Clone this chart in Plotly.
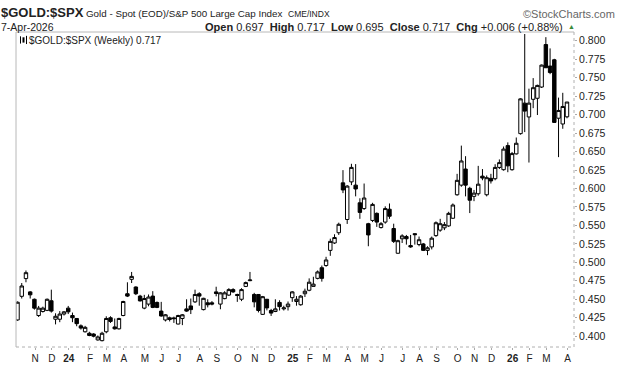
import pandas as pd
import plotly.graph_objects as go

# ---- data (weekly OHLC of $GOLD:$SPX) ----
start_week = "2023-10-09"
opens = [0.422,0.454,0.478,0.460,0.450,0.428,0.4335,0.435,0.448,0.423,
         0.423,0.430,0.438,0.428,0.424,0.414,0.406,0.404,0.403,0.395,
         0.394,0.406,0.425,0.4126,0.410,0.428,0.4575,0.477,0.4666,0.4543,
         0.438,0.4435,0.4543,0.4457,0.434,0.422,0.4226,0.4248,0.4165,0.424,
         0.437,0.441,0.4465,0.4575,0.436,0.4452,0.4452,0.460,0.4435,0.4509,
         0.4557,0.4631,0.4565,0.450,0.4674,0.4752,0.4565,0.4565,0.4296,0.450,
         0.4348,0.4335,0.4457,0.437,0.440,0.4522,0.447,0.4426,0.4575,0.4622,
         0.4674,0.4783,0.4927,0.4957,0.5162,0.5262,0.5401,0.6076,0.558,0.6089,
         0.6045,0.5806,0.5728,0.5523,0.5567,0.5663,0.5471,0.5545,0.5719,0.5458,
         0.5123,0.5319,0.5349,0.5227,0.5388,0.5241,0.5249,0.5162,0.5209,0.5362,
         0.5436,0.5467,0.5493,0.5597,0.5915,0.6045,0.6263,0.6002,0.5893,0.5928,
         0.6167,0.5915,0.6137,0.6132,0.6285,0.6254,0.658,0.6254,0.6468,0.6742,
         0.7155,0.6968,0.7207,0.7221,0.7373,0.7948,0.7657,0.7742,0.6951,0.6873,
         0.697]
highs = [0.447,0.472,0.489,0.461,0.451,0.441,0.440,0.451,0.463,0.431,
         0.434,0.434,0.441,0.432,0.4245,0.416,0.414,0.406,0.404,0.401,
         0.406,0.427,0.427,0.424,0.425,0.448,0.473,0.487,0.4675,0.456,
         0.456,0.4565,0.461,0.447,0.4465,0.430,0.4265,0.4265,0.429,0.430,
         0.450,0.451,0.463,0.4595,0.452,0.450,0.4475,0.467,0.4596,0.4609,
         0.465,0.465,0.4575,0.465,0.474,0.487,0.4587,0.457,0.4545,0.4505,
         0.437,0.450,0.4487,0.4413,0.447,0.461,0.4543,0.4557,0.4644,0.4783,
         0.4805,0.489,0.4957,0.5075,0.532,0.538,0.5537,0.6248,0.6045,0.6334,
         0.633,0.5867,0.6067,0.5535,0.5806,0.5676,0.5545,0.5758,0.5797,0.5523,
         0.5306,0.538,0.5371,0.5371,0.5392,0.5349,0.5262,0.5218,0.5349,0.5554,
         0.5589,0.5545,0.5684,0.5797,0.6198,0.658,0.6437,0.6023,0.598,0.6306,
         0.6263,0.6176,0.6198,0.6328,0.6393,0.6568,0.6624,0.6494,0.669,0.7221,
         0.8091,0.7351,0.7494,0.7405,0.7678,0.8048,0.7896,0.7755,0.723,0.7295,
         0.717]
lows = [0.421,0.451,0.473,0.451,0.436,0.426,0.432,0.434,0.432,0.416,
        0.419,0.428,0.430,0.419,0.4135,0.409,0.405,0.400,0.3985,0.394,
        0.393,0.404,0.418,0.409,0.409,0.427,0.453,0.472,0.4557,0.447,
        0.4365,0.4405,0.438,0.438,0.4265,0.420,0.420,0.418,0.416,0.415,
        0.433,0.430,0.445,0.4413,0.435,0.439,0.4418,0.454,0.4365,0.450,
        0.4545,0.4587,0.4465,0.4475,0.4665,0.4745,0.4391,0.4322,0.4287,0.435,
        0.4274,0.4326,0.4348,0.4348,0.4348,0.4465,0.4413,0.4413,0.4531,0.4609,
        0.4674,0.477,0.4739,0.494,0.5088,0.5249,0.5371,0.5937,0.552,0.6045,
        0.5893,0.5589,0.571,0.5218,0.5545,0.548,0.5458,0.5523,0.5589,0.5262,
        0.5118,0.5262,0.524,0.5197,0.524,0.5218,0.5153,0.5097,0.5175,0.5345,
        0.5414,0.5436,0.548,0.5589,0.5902,0.6023,0.5893,0.5667,0.5828,0.5902,
        0.6111,0.5893,0.6067,0.6111,0.6263,0.6241,0.622,0.6241,0.6459,0.6729,
        0.6763,0.6351,0.7087,0.6994,0.736,0.7634,0.7547,0.6894,0.6424,0.6808,
        0.695]
closes = [0.446,0.468,0.486,0.456,0.438,0.438,0.438,0.450,0.434,0.427,
          0.430,0.433,0.433,0.425,0.417,0.411,0.412,0.401,0.400,0.399,
          0.404,0.424,0.420,0.410,0.424,0.447,0.4543,0.481,0.4575,0.4478,
          0.451,0.453,0.439,0.439,0.4274,0.429,0.425,0.4238,0.428,0.429,
          0.434,0.436,0.4565,0.4543,0.4513,0.4426,0.4435,0.4578,0.4587,0.4587,
          0.4631,0.460,0.4552,0.4631,0.4726,0.4761,0.4465,0.4348,0.4535,0.4383,
          0.4313,0.437,0.440,0.4383,0.4435,0.460,0.450,0.4543,0.4609,0.4731,
          0.4705,0.487,0.4783,0.5032,0.5284,0.5336,0.5515,0.598,0.6032,0.6285,
          0.5993,0.5676,0.5871,0.5371,0.5784,0.5545,0.5523,0.5728,0.5624,0.5284,
          0.5293,0.5358,0.5319,0.5209,0.5375,0.5306,0.5162,0.5197,0.5327,0.5536,
          0.5523,0.551,0.5663,0.5776,0.611,0.6372,0.6045,0.5841,0.5937,0.6058,
          0.6141,0.6146,0.6102,0.6285,0.635,0.6533,0.6306,0.6472,0.6612,0.7213,
          0.7047,0.7155,0.7364,0.7395,0.767,0.7634,0.7569,0.6894,0.7056,0.711,
          0.717]

tick_dates = ["2023-11-06","2023-12-04","2024-01-01","2024-02-05","2024-03-04",
              "2024-04-01","2024-05-06","2024-06-03","2024-07-01","2024-08-05",
              "2024-09-02","2024-10-07","2024-11-04","2024-12-02","2025-01-06",
              "2025-02-03","2025-03-03","2025-04-07","2025-05-05","2025-06-02",
              "2025-07-07","2025-08-04","2025-09-01","2025-10-06","2025-11-03",
              "2025-12-01","2026-01-05","2026-02-02","2026-03-02","2026-04-06"]
tick_labels = ["N","D","<b>24</b>","F","M","A","M","J","J","A","S","O","N","D",
               "<b>25</b>","F","M","A","M","J","J","A","S","O","N","D","<b>26</b>",
               "F","M","A"]
y_ticks = [0.400,0.425,0.450,0.475,0.500,0.525,0.550,0.575,0.600,0.625,
           0.650,0.675,0.700,0.725,0.750,0.775,0.800]

dates = [pd.Timestamp(start_week) + pd.Timedelta(weeks=i) for i in range(len(opens))]

W, H = 620, 376
L, R, T, B = 16, 574, 32, 359  # plot box in pixels

def px(x):
    return (x - L) / (R - L)

def py(y):
    return (B - y) / (B - T)

FONT = "Liberation Sans, Arial, sans-serif"

fig = go.Figure()
fig.add_trace(go.Candlestick(
    x=dates, open=opens, high=highs, low=lows, close=closes,
    increasing=dict(line=dict(color="black", width=1), fillcolor="white"),
    decreasing=dict(line=dict(color="black", width=1), fillcolor="black"),
    whiskerwidth=0, showlegend=False, hoverinfo="skip",
))

x0 = pd.Timestamp(start_week) - pd.Timedelta(days=2.5)
x1 = dates[-1] + pd.Timedelta(days=11.6)

fig.update_layout(
    width=W, height=H, autosize=False,
    margin=dict(l=L, r=W - R, t=T, b=H - B, pad=0),
    paper_bgcolor="white", plot_bgcolor="white",
    boxgap=0.12, boxgroupgap=0.08,
    font=dict(family=FONT, size=10, color="#222"),
    xaxis=dict(
        type="date", range=[x0, x1], rangeslider=dict(visible=False),
        showgrid=False, zeroline=False, showline=False,
        tickvals=[pd.Timestamp(d) + pd.Timedelta(days=1) for d in tick_dates],
        ticktext=tick_labels, ticks="outside", ticklen=2, tickcolor="#aaa",
        tickfont=dict(family=FONT, size=10, color="#222"),
        fixedrange=True,
    ),
    yaxis=dict(
        side="right", range=[0.3854, 0.8118],
        tickvals=y_ticks, ticktext=[f"{v:.3f}" for v in y_ticks],
        ticks="outside", ticklen=2, tickcolor="#aaa",
        showgrid=False, zeroline=False, showline=False,
        tickfont=dict(family=FONT, size=10.5, color="#222"),
        fixedrange=True,
    ),
)

# frame
fig.add_shape(type="line", xref="paper", yref="paper", x0=0, x1=0, y0=0, y1=1,
              line=dict(color="#b8b8b8", width=1))
fig.add_shape(type="line", xref="paper", yref="paper", x0=0, x1=1, y0=1, y1=1,
              line=dict(color="#b8b8b8", width=1))
fig.add_shape(type="line", xref="paper", yref="paper", x0=1, x1=1, y0=0, y1=1,
              line=dict(color="#b0b0b0", width=1, dash="dot"))
fig.add_shape(type="line", xref="paper", yref="paper", x0=0, x1=1, y0=0, y1=0,
              line=dict(color="#b0b0b0", width=1, dash="dot"))

# legend icon (small candle glyph)
for (ix, ya, yb, wd) in [(20.5, 36.5, 44, 1), (23.5, 37.5, 43, 2), (26.5, 36, 44.5, 1)]:
    fig.add_shape(type="line", xref="paper", yref="paper",
                  x0=px(ix), x1=px(ix), y0=py(ya), y1=py(yb),
                  line=dict(color="black", width=wd))

ann = []
def text(x, y, s, size, anchor="left", color="#222", family=FONT):
    ann.append(dict(x=px(x), y=py(y), xref="paper", yref="paper", text=s,
                    showarrow=False, xanchor=anchor, yanchor="middle",
                    borderpad=0,
                    font=dict(family=family, size=size, color=color)))

text(0, 12, "<b>$GOLD:$SPX</b>", 13)
text(85, 13, "Gold - Spot (EOD)/S&P 500 Large Cap Index", 9.8)
text(287, 13.5, "CME/INDX", 8.5)
text(616, 13, "©StockCharts.com", 11, anchor="right", color="#666")
text(0, 26.5, "7-Apr-2026", 10.5)
text(564, 26.5, "<b>Open</b> 0.697  <b>High</b> 0.717  <b>Low</b> 0.695  <b>Close</b> 0.717  "
                "<b>Chg</b> +0.006 (+0.88%)", 11, anchor="right")
text(567, 26, "▲", 7, color="#3a8a3a")
text(28, 40.5, "$GOLD:$SPX (Weekly) 0.717", 10)

fig.update_layout(annotations=ann)
fig.write_html("out.html", config={"displayModeBar": False},
               post_script="document.body.style.margin='0';")
